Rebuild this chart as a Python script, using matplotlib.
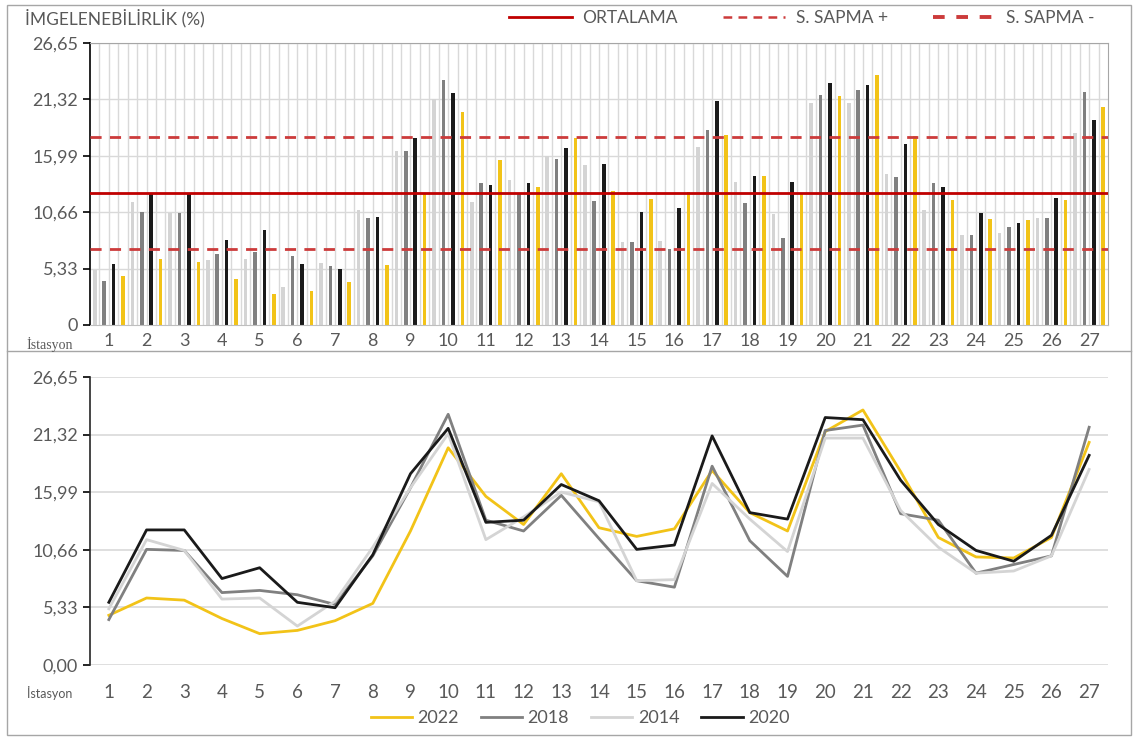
import numpy as np
import matplotlib.pyplot as plt
from matplotlib.lines import Line2D
from matplotlib.patches import Rectangle

plt.rcParams['font.family'] = ['Lato', 'DejaVu Sans']

stations = list(range(1, 28))
years = ['2014', '2018', '2020', '2022']

y2014 = [5.2, 11.6, 10.6, 6.1, 6.2, 3.6, 5.9, 10.9, 16.4, 21.4, 11.6, 13.7, 16.0, 15.1,
         7.8, 7.9, 16.8, 13.5, 10.5, 21.0, 21.0, 14.3, 10.9, 8.5, 8.7, 10.1, 18.1]
y2018 = [4.2, 10.7, 10.6, 6.7, 6.9, 6.5, 5.6, 10.1, 16.4, 23.2, 13.4, 12.4, 15.7, 11.7,
         7.8, 7.2, 18.4, 11.5, 8.2, 21.7, 22.2, 14.0, 13.4, 8.5, 9.3, 10.1, 22.0]
y2020 = [5.8, 12.5, 12.5, 8.0, 9.0, 5.8, 5.3, 10.2, 17.7, 21.9, 13.2, 13.4, 16.7, 15.2,
         10.7, 11.1, 21.2, 14.1, 13.5, 22.9, 22.7, 17.1, 13.0, 10.6, 9.6, 12.0, 19.4]
y2022 = [4.6, 6.2, 6.0, 4.3, 2.9, 3.2, 4.1, 5.7, 12.4, 20.1, 15.6, 13.0, 17.7, 12.7,
         11.9, 12.6, 18.0, 14.1, 12.4, 21.6, 23.6, 17.9, 11.8, 10.0, 9.9, 11.8, 20.6]

ortalama = 12.48
sapma = 5.32

yticks = [0, 5.33, 10.66, 15.99, 21.32, 26.65]
top_ylabels = ['0', '5,33', '10,66', '15,99', '21,32', '26,65']
bot_ylabels = ['0,00', '5,33', '10,66', '15,99', '21,32', '26,65']

colors = {'2014': '#d4d4d4', '2018': '#808080', '2020': '#1a1a1a', '2022': '#f2c318'}
series = {'2014': y2014, '2018': y2018, '2020': y2020, '2022': y2022}
txt = '#595959'
red = '#c00000'
red2 = '#cc3b3b'

fig = plt.figure(figsize=(11.36, 7.39), dpi=100)

# frames round the two panels
fig.patches.append(Rectangle((7 / 1136, 4 / 739), 1124 / 1136, 730 / 739,
                             transform=fig.transFigure, fill=False, ec='#a6a6a6', lw=1))
fig.lines.append(Line2D([7 / 1136, 1131 / 1136], [1 - 351 / 739, 1 - 351 / 739],
                        transform=fig.transFigure, color='#a6a6a6', lw=1))

# ---- top: bars ----
ax1 = fig.add_axes([90 / 1136, 1 - 325 / 739, 1018 / 1136, 282 / 739])
x = np.array(stations, dtype=float)
slot = 0.25
for k in range(1, 108):
    ax1.axvline(0.5 + k * slot, color='#d9d9d9', lw=1, zorder=0)
for yv in yticks[1:]:
    ax1.axhline(yv, color='#d9d9d9', lw=1, zorder=0)
for i, yr in enumerate(years):
    ax1.bar(x + (i - 1.5) * slot, series[yr], width=0.095, color=colors[yr], zorder=2)

ax1.axhline(ortalama, color=red, lw=2, zorder=3)
ax1.axhline(ortalama + sapma, color=red2, lw=2, dashes=(4, 3), zorder=3)
ax1.axhline(ortalama - sapma, color=red2, lw=2, dashes=(4, 3), zorder=3)

ax1.set_xlim(0.5, 27.5)
ax1.set_ylim(0, 26.65)
ax1.set_yticks(yticks)
ax1.set_yticklabels(top_ylabels)
ax1.set_xticks(x)
ax1.set_xticklabels([str(s) for s in stations])
ax1.tick_params(axis='y', labelsize=13, colors='black', labelcolor=txt, length=5, width=1.2)
ax1.tick_params(axis='x', labelsize=13, labelcolor=txt, length=0, pad=6)
for s in ['top', 'right']:
    ax1.spines[s].set_color('#a6a6a6')
ax1.spines['bottom'].set_color('#bfbfbf')
ax1.spines['left'].set_color('black')
ax1.spines['left'].set_linewidth(1.2)

fig.text(25 / 1136, 1 - 18 / 739, 'İMGELENEBİLİRLİK (%)', fontsize=12.5, color=txt, va='center')
fig.text(50 / 1136, 1 - 344 / 739, 'İstasyon', fontsize=10, color=txt, va='center',
         ha='center', family='Liberation Serif')

top_handles = [Line2D([], [], color=red, lw=2),
               Line2D([], [], color=red2, lw=1.8, dashes=(3.5, 2.5)),
               Line2D([], [], color=red2, lw=2.8, dashes=(3, 3))]
fig.legend(top_handles, ['ORTALAMA', 'S. SAPMA +', 'S. SAPMA -'], ncol=3,
           loc='center right', bbox_to_anchor=(1110 / 1136, 1 - 18 / 739), frameon=False,
           fontsize=12.5, labelcolor=txt, handlelength=3.6, columnspacing=2.6, handletextpad=0.6)

# ---- bottom: lines ----
ax2 = fig.add_axes([90 / 1136, 1 - 665 / 739, 1018 / 1136, 288 / 739])
for yv in yticks:
    ax2.axhline(yv, color='#d9d9d9', lw=1.2, zorder=0)
for yr in ['2022', '2018', '2014', '2020']:
    ax2.plot(x, series[yr], color=colors[yr], lw=2, label=yr, zorder=2)
ax2.set_xlim(0.5, 27.5)
ax2.set_ylim(0, 26.65)
ax2.set_yticks(yticks)
ax2.set_yticklabels(bot_ylabels)
ax2.set_xticks(x)
ax2.set_xticklabels([str(s) for s in stations])
ax2.tick_params(axis='y', labelsize=13, labelcolor=txt, length=5, width=1.2)
ax2.tick_params(axis='x', labelsize=13.5, labelcolor=txt, length=0, pad=14)
for s in ['top', 'right', 'bottom']:
    ax2.spines[s].set_visible(False)
ax2.spines['left'].set_color('#262626')
ax2.spines['left'].set_linewidth(1.2)

fig.text(50 / 1136, 1 - 693 / 739, 'İstasyon', fontsize=9, color=txt, va='center', ha='center')

fig.legend(*ax2.get_legend_handles_labels(), ncol=4, loc='center',
           bbox_to_anchor=(580 / 1136, 1 - 718 / 739), frameon=False,
           fontsize=13, labelcolor=txt, handlelength=2.3, columnspacing=1.2, handletextpad=0.3)

fig.savefig('out.png', dpi=100)
